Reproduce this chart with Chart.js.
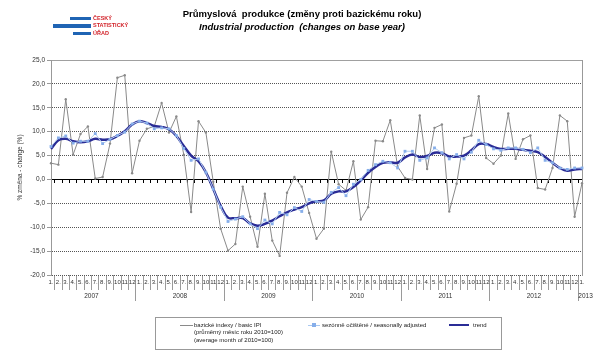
<!DOCTYPE html>
<html><head><meta charset="utf-8">
<script src="https://cdn.jsdelivr.net/npm/chart.js@4.4.1/dist/chart.umd.min.js"></script>
<style>
html,body{margin:0;padding:0;background:#fff;}
#wrap{position:relative;width:600px;height:355px;overflow:hidden;font-family:"Liberation Sans",Arial,sans-serif;}
#c{position:absolute;left:0;top:0;}
.t1{position:absolute;left:0;width:604px;top:8px;text-align:center;font-weight:bold;font-size:9.5px;color:#000;white-space:pre;}
.t2{position:absolute;left:0;width:604px;top:21px;text-align:center;font-weight:bold;font-style:italic;font-size:9.5px;color:#000;white-space:pre;}
.bar{position:absolute;background:#1f64b4;}
.lt{position:absolute;left:93px;color:#d2232a;font-weight:bold;font-size:5.5px;line-height:6px;}
#legend{position:absolute;left:155px;top:317px;width:345px;height:31px;border:1px solid #999;font-size:6px;color:#222;}
.li{position:absolute;top:4px;line-height:7.3px;white-space:pre;}
.sw{position:absolute;height:0;}
</style></head>
<body><div id="wrap">
<canvas id="c" width="600" height="355"></canvas>
<div class="bar" style="left:70px;top:17px;width:21px;height:3px"></div>
<div class="bar" style="left:53px;top:24px;width:38px;height:4px"></div>
<div class="bar" style="left:73px;top:32px;width:18px;height:3px"></div>
<div class="lt" style="top:15px">ČESKÝ</div>
<div class="lt" style="top:22px">STATISTICKÝ</div>
<div class="lt" style="top:30px">ÚŘAD</div>
<div class="t1">Průmyslová  produkce (změny proti bazickému roku)</div>
<div class="t2">Industrial production  (changes on base year)</div>
<div id="legend">
  <div class="sw" style="left:24px;top:7px;width:13px;border-top:1px solid #8a8a8a"></div>
  <div class="li" style="left:38px">bazické indexy / basic IPI
(průměrný měsíc roku 2010=100)
(average month of 2010=100)</div>
  <div class="sw" style="left:152px;top:7px;width:12px;border-top:1px solid #a9c8f0"></div>
  <div class="sw" style="left:156px;top:5px;width:4px;height:4px;background:#86aeea"></div>
  <div class="li" style="left:166px">sezónně očištěné / seasonally adjusted</div>
  <div class="sw" style="left:293px;top:6px;width:20px;border-top:2px solid #2a2c96"></div>
  <div class="li" style="left:317px">trend</div>
</div>
</div>
<script>
const monthLabels = [];
for (let y = 0; y < 6; y++) for (let m = 1; m <= 12; m++) monthLabels.push(m < 10 ? m + '.' : String(m));
monthLabels.push('1.');
const years = ['2007','2008','2009','2010','2011','2012','2013'];
const yearLabels = monthLabels.map((_, i) => (i % 12 === 5 && i < 72) ? years[Math.floor(i / 12)] : (i === 72 ? '2013' : ''));

const basicIndex = [
  3.4, 3.1, 16.8, 5.2, 9.5, 11.1, 0.2, 0.5, 7.5, 21.3, 21.8, 1.3,
  8.1, 10.6, 11.1, 16.0, 9.8, 13.2, 5.2, -6.8, 12.2, 9.8, -0.5, -10.3,
  -14.9, -13.5, -1.5, -7.8, -14.1, -3.0, -12.8, -16.0, -2.8, 0.5, -1.5, -7.0,
  -12.4, -10.3, 5.8, -1.0, -2.3, 3.8, -8.4, -5.8, 8.1, 8.0, 12.4, 2.7,
  0.3, 0.0, 13.4, 2.2, 10.8, 11.5, -6.7, -0.9, 8.7, 9.2, 17.4, 4.5,
  3.3, 5.0, 13.8, 4.3, 8.4, 9.2, -1.8, -2.1, 2.4, 13.4, 12.2, -7.8,
  -0.8
];
const seasonallyAdjusted = [
  6.9, 8.7, 9.1, 7.6, 8.0, 8.0, 9.6, 7.5, 8.4, 9.2, 9.9, 11.6,
  12.2, 11.8, 10.6, 10.8, 10.6, 9.2, 6.5, 4.0, 4.3, 1.5, -2.0, -5.8,
  -8.8, -8.3, -7.8, -9.3, -10.3, -8.5, -9.3, -6.9, -7.4, -5.9, -6.7, -4.2,
  -4.6, -4.8, -2.7, -1.7, -3.4, -1.0, 0.0, 1.9, 3.1, 3.8, 3.5, 2.4,
  5.9, 5.9, 4.0, 4.5, 6.6, 5.6, 4.3, 5.2, 4.3, 5.7, 8.2, 7.3,
  6.4, 6.1, 6.6, 6.6, 6.3, 5.6, 6.6, 4.0, 3.5, 2.4, 2.1, 2.4,
  2.4
];
const trend = [
  6.4, 8.2, 8.5, 8.0, 7.8, 8.0, 8.5, 8.3, 8.4, 9.1, 10.1, 11.5,
  12.2, 11.8, 11.2, 11.0, 10.5, 9.1, 7.0, 5.0, 3.8, 1.5, -2.0, -5.5,
  -8.0, -8.1, -8.1, -9.2, -9.7, -9.3, -8.6, -7.7, -6.9, -6.3, -5.8, -5.0,
  -4.6, -4.4, -3.0, -2.5, -2.5, -1.6, -0.2, 1.4, 2.6, 3.5, 3.6, 3.5,
  4.6, 5.2, 4.7, 4.9, 5.6, 5.5, 4.8, 4.8, 5.0, 6.1, 7.4, 7.4,
  6.8, 6.4, 6.4, 6.4, 6.2, 6.0, 5.7, 4.7, 3.5, 2.4, 1.8, 2.1,
  2.2
];
const yMin = -20, yMax = 25, yStep = 5;

const font = 'Liberation Sans, Arial, sans-serif';
new Chart(document.getElementById('c'), {
  type: 'line',
  data: {
    labels: monthLabels,
    datasets: [
      { label: 'bazické indexy / basic IPI', data: basicIndex, borderColor: '#8a8a8a', backgroundColor: '#8a8a8a',
        borderWidth: 1, pointRadius: 1.2, pointBorderWidth: 0, tension: 0, order: 3, xAxisID: 'x' },
      { label: 'sezónně očištěné / seasonally adjusted', data: seasonallyAdjusted, borderColor: '#b3cff2', backgroundColor: '#86aeea',
        pointBorderColor: '#86aeea', borderWidth: 1, pointStyle: 'rect', pointRadius: 2, pointBorderWidth: 0, tension: 0, order: 1, xAxisID: 'x' },
      { label: 'trend', data: trend, borderColor: '#2a2c96', borderWidth: 2.5, pointRadius: 0, tension: 0.4, order: 2, xAxisID: 'x' }
    ]
  },
  options: {
    responsive: false, animation: false, devicePixelRatio: 1,
    layout: { padding: { left: 16, right: 18, top: 60, bottom: 52 } },
    plugins: { legend: { display: false }, tooltip: { enabled: false }, title: { display: false } },
    scales: {
      x: {
        type: 'category', position: 'bottom', labels: monthLabels,
        grid: { offset: true, drawOnChartArea: false, tickLength: 15, color: '#9a9a9a', tickColor: '#9a9a9a' },
        border: { display: false },
        ticks: { autoSkip: false, maxRotation: 0, minRotation: 0, padding: -11, color: '#333', font: { family: font, size: 6 } },
        afterFit: s => { s.height = 15; }
      },
      xYear: {
        type: 'category', position: 'bottom', labels: yearLabels, weight: 1,
        grid: { offset: true, drawOnChartArea: false, tickLength: 11,
          color: c => (c.index % 12 === 0 || c.index === 73) ? '#9a9a9a' : 'rgba(0,0,0,0)',
          tickColor: c => (c.index % 12 === 0 || c.index === 73) ? '#9a9a9a' : 'rgba(0,0,0,0)' },
        border: { display: false },
        ticks: { autoSkip: false, maxRotation: 0, minRotation: 0, padding: -9, labelOffset: 3.6, color: '#333', font: { family: font, size: 6.5 } },
        afterFit: s => { s.height = 13; }
      },
      xZero: {
        type: 'category', position: { y: 0 }, labels: monthLabels,
        grid: { offset: true, drawOnChartArea: false, tickLength: 3, color: '#000', tickColor: '#000' },
        border: { display: true, color: '#000', width: 1 },
        ticks: { display: false }
      },
      y: {
        min: yMin, max: yMax,
        ticks: { stepSize: yStep, padding: 2, color: '#333', font: { family: font, size: 6.5 },
          callback: v => v.toFixed(1).replace('.', ',') },
        grid: { tickLength: 4,
          color: c => (c.tick && c.tick.value === 0) ? '#000' : (c.tick && c.tick.value === yMax ? '#a0a0a0' : '#555'),
          tickColor: '#999' },
        border: { display: true, color: '#999', width: 1,
          dash: c => (c.tick && (c.tick.value === 0 || c.tick.value === yMax)) ? [] : [1, 1] },
        title: { display: true, text: '% změna - change (%)', color: '#333', padding: 0, font: { family: font, size: 6.5 } },
        afterFit: s => { s.width = 35; }
      },
      y2: {
        position: 'right', min: yMin, max: yMax,
        grid: { display: false }, ticks: { display: false },
        border: { display: true, color: '#999', width: 1 },
        afterFit: s => { s.width = 0; }
      }
    }
  }
});
</script>
</body></html>
